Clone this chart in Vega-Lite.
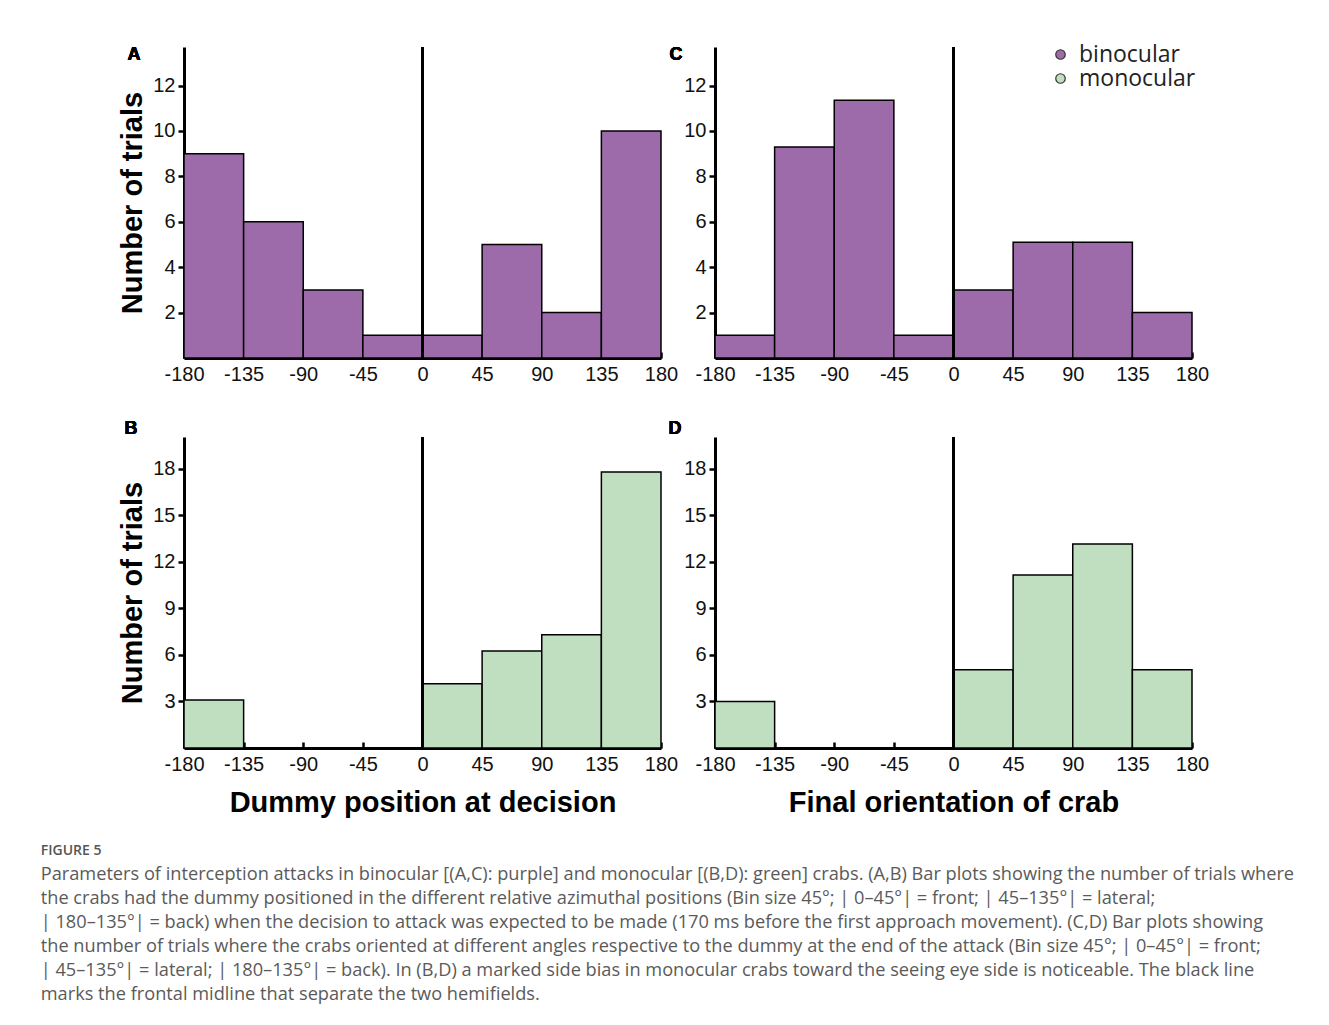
{
  "$schema": "https://vega.github.io/schema/vega-lite/v6.json",
  "background": "white",
  "padding": {"left": 40, "top": 43, "right": 10, "bottom": 10},
  "title": {
    "text": "FIGURE 5",
    "subtitle": [
      "Parameters of interception attacks in binocular [(A,C): purple] and monocular [(B,D): green] crabs. (A,B) Bar plots showing the number of trials where",
      "the crabs had the dummy positioned in the different relative azimuthal positions (Bin size 45°; | 0–45°| = front; | 45–135°| = lateral;",
      "| 180–135°| = back) when the decision to attack was expected to be made (170 ms before the first approach movement). (C,D) Bar plots showing",
      "the number of trials where the crabs oriented at different angles respective to the dummy at the end of the attack (Bin size 45°; | 0–45°| = front;",
      "| 45–135°| = lateral; | 180–135°| = back). In (B,D) a marked side bias in monocular crabs toward the seeing eye side is noticeable. The black line",
      "marks the frontal midline that separate the two hemifields."
    ],
    "orient": "bottom",
    "anchor": "start",
    "frame": "bounds",
    "dx": -78,
    "offset": 27,
    "font": "Open Sans",
    "fontSize": 14,
    "fontWeight": 600,
    "color": "#555555",
    "subtitleFont": "Open Sans",
    "subtitleFontSize": 18.2,
    "subtitleColor": "#5a5a5a",
    "subtitleLineHeight": 24,
    "subtitlePadding": 8
  },
  "columns": 2,
  "bounds": "flush",
  "spacing": {"row": 79, "column": 54},
  "resolve": {"scale": {"color": "independent", "y": "independent", "x": "independent"}},
  "concat": [
    {
      "width": 477,
      "height": 311,
      "data": {"values": [
        {"start": -180, "end": -135, "count": 9, "group": "binocular"},
        {"start": -135, "end": -90, "count": 6, "group": "binocular"},
        {"start": -90, "end": -45, "count": 3, "group": "binocular"},
        {"start": -45, "end": 0, "count": 1, "group": "binocular"},
        {"start": 0, "end": 45, "count": 1, "group": "binocular"},
        {"start": 45, "end": 90, "count": 5, "group": "binocular"},
        {"start": 90, "end": 135, "count": 2, "group": "binocular"},
        {"start": 135, "end": 180, "count": 10, "group": "binocular"}
      ]},
      "layer": [
        {
          "mark": {"type": "rect", "stroke": "black", "strokeWidth": 1.5},
          "encoding": {
            "x": {"field": "start", "type": "quantitative", "scale": {"domain": [-180, 180], "nice": false}, "axis": {"values": [-180, -135, -90, -45, 0, 45, 90, 135, 180], "title": null}},
            "x2": {"field": "end"},
            "y": {"field": "count", "type": "quantitative", "scale": {"domain": [0, 13.7], "nice": false}, "axis": {"values": [2, 4, 6, 8, 10, 12], "title": "Number of trials"}},
            "y2": {"datum": 0},
            "color": {"field": "group", "type": "nominal", "scale": {"domain": ["binocular", "monocular"], "range": ["#9e6baa", "#c0dfc1"]}, "legend": null}
          }
        },
        {"mark": {"type": "rule", "color": "black", "strokeWidth": 2.5}, "encoding": {"x": {"datum": 0}}},
        {"mark": {"type": "text", "text": "A", "dx": -50, "dy": 8, "fontSize": 18, "fontWeight": "bold", "font": "Liberation Sans", "align": "center", "baseline": "middle", "color": "black"}, "encoding": {"x": {"datum": -180}, "y": {"datum": 13.7}}}
      ]
    },
    {
      "width": 477,
      "height": 311,
      "data": {"values": [
        {"start": -180, "end": -135, "count": 1, "group": "binocular"},
        {"start": -135, "end": -90, "count": 9.3, "group": "binocular"},
        {"start": -90, "end": -45, "count": 11.35, "group": "binocular"},
        {"start": -45, "end": 0, "count": 1, "group": "binocular"},
        {"start": 0, "end": 45, "count": 3, "group": "binocular"},
        {"start": 45, "end": 90, "count": 5.1, "group": "binocular"},
        {"start": 90, "end": 135, "count": 5.1, "group": "binocular"},
        {"start": 135, "end": 180, "count": 2, "group": "binocular"}
      ]},
      "layer": [
        {
          "mark": {"type": "rect", "stroke": "black", "strokeWidth": 1.5},
          "encoding": {
            "x": {"field": "start", "type": "quantitative", "scale": {"domain": [-180, 180], "nice": false}, "axis": {"values": [-180, -135, -90, -45, 0, 45, 90, 135, 180], "title": null}},
            "x2": {"field": "end"},
            "y": {"field": "count", "type": "quantitative", "scale": {"domain": [0, 13.7], "nice": false}, "axis": {"values": [2, 4, 6, 8, 10, 12], "title": null}},
            "y2": {"datum": 0},
            "color": {"field": "group", "type": "nominal", "scale": {"domain": ["binocular", "monocular"], "range": ["#9e6baa", "#c0dfc1"]},
              "legend": {"title": null, "orient": "top-right", "offset": -4, "symbolType": "circle", "symbolSize": 90, "symbolStrokeColor": "#333333", "symbolStrokeWidth": 1.2, "labelFont": "Open Sans", "labelFontSize": 23, "labelColor": "#222222", "rowPadding": 0, "labelOffset": 7, "padding": 0}}
          }
        },
        {"mark": {"type": "rule", "color": "black", "strokeWidth": 2.5}, "encoding": {"x": {"datum": 0}}},
        {"mark": {"type": "text", "text": "C", "dx": -39, "dy": 8, "fontSize": 18, "fontWeight": "bold", "font": "Liberation Sans", "align": "center", "baseline": "middle", "color": "black"}, "encoding": {"x": {"datum": -180}, "y": {"datum": 13.7}}}
      ]
    },
    {
      "width": 477,
      "height": 311,
      "data": {"values": [
        {"start": -180, "end": -135, "count": 3.1, "group": "monocular"},
        {"start": -135, "end": -90, "count": 0, "group": "monocular"},
        {"start": -90, "end": -45, "count": 0, "group": "monocular"},
        {"start": -45, "end": 0, "count": 0, "group": "monocular"},
        {"start": 0, "end": 45, "count": 4.15, "group": "monocular"},
        {"start": 45, "end": 90, "count": 6.25, "group": "monocular"},
        {"start": 90, "end": 135, "count": 7.3, "group": "monocular"},
        {"start": 135, "end": 180, "count": 17.8, "group": "monocular"}
      ]},
      "layer": [
        {
          "mark": {"type": "rect", "stroke": "black", "strokeWidth": 1.5},
          "encoding": {
            "x": {"field": "start", "type": "quantitative", "scale": {"domain": [-180, 180], "nice": false}, "axis": {"values": [-180, -135, -90, -45, 0, 45, 90, 135, 180], "title": "Dummy position at decision"}},
            "x2": {"field": "end"},
            "y": {"field": "count", "type": "quantitative", "scale": {"domain": [0, 20.05], "nice": false}, "axis": {"values": [3, 6, 9, 12, 15, 18], "title": "Number of trials"}},
            "y2": {"datum": 0},
            "color": {"field": "group", "type": "nominal", "scale": {"domain": ["binocular", "monocular"], "range": ["#9e6baa", "#c0dfc1"]}, "legend": null}
          }
        },
        {"mark": {"type": "rule", "color": "black", "strokeWidth": 2.5}, "encoding": {"x": {"datum": 0}}},
        {"mark": {"type": "text", "text": "B", "dx": -53, "dy": -8, "fontSize": 18, "fontWeight": "bold", "font": "Liberation Sans", "align": "center", "baseline": "middle", "color": "black"}, "encoding": {"x": {"datum": -180}, "y": {"datum": 20.05}}}
      ]
    },
    {
      "width": 477,
      "height": 311,
      "data": {"values": [
        {"start": -180, "end": -135, "count": 3, "group": "monocular"},
        {"start": -135, "end": -90, "count": 0, "group": "monocular"},
        {"start": -90, "end": -45, "count": 0, "group": "monocular"},
        {"start": -45, "end": 0, "count": 0, "group": "monocular"},
        {"start": 0, "end": 45, "count": 5.05, "group": "monocular"},
        {"start": 45, "end": 90, "count": 11.15, "group": "monocular"},
        {"start": 90, "end": 135, "count": 13.15, "group": "monocular"},
        {"start": 135, "end": 180, "count": 5.05, "group": "monocular"}
      ]},
      "layer": [
        {
          "mark": {"type": "rect", "stroke": "black", "strokeWidth": 1.5},
          "encoding": {
            "x": {"field": "start", "type": "quantitative", "scale": {"domain": [-180, 180], "nice": false}, "axis": {"values": [-180, -135, -90, -45, 0, 45, 90, 135, 180], "title": "Final orientation of crab"}},
            "x2": {"field": "end"},
            "y": {"field": "count", "type": "quantitative", "scale": {"domain": [0, 20.05], "nice": false}, "axis": {"values": [3, 6, 9, 12, 15, 18], "title": null}},
            "y2": {"datum": 0},
            "color": {"field": "group", "type": "nominal", "scale": {"domain": ["binocular", "monocular"], "range": ["#9e6baa", "#c0dfc1"]}, "legend": null}
          }
        },
        {"mark": {"type": "rule", "color": "black", "strokeWidth": 2.5}, "encoding": {"x": {"datum": 0}}},
        {"mark": {"type": "text", "text": "D", "dx": -40, "dy": -8, "fontSize": 18, "fontWeight": "bold", "font": "Liberation Sans", "align": "center", "baseline": "middle", "color": "black"}, "encoding": {"x": {"datum": -180}, "y": {"datum": 20.05}}}
      ]
    }
  ],
  "config": {
    "view": {"stroke": null},
    "font": "Liberation Sans",
    "axis": {
      "grid": false,
      "zindex": 1,
      "domainColor": "black",
      "domainWidth": 3,
      "tickColor": "black",
      "tickWidth": 2.5,
      "labelFont": "Liberation Sans",
      "labelFontSize": 20,
      "labelColor": "#111111",
      "labelFlush": false,
      "labelOverlap": false,
      "labelExpr": "'' + datum.value",
      "titleFont": "Liberation Sans",
      "titleFontSize": 29,
      "titleFontWeight": "bold",
      "titleColor": "black"
    },
    "axisX": {"tickSize": -6, "labelPadding": 12, "titlePadding": 14},
    "axisY": {"tickSize": 6, "labelPadding": 3, "titlePadding": 5}
  }
}
